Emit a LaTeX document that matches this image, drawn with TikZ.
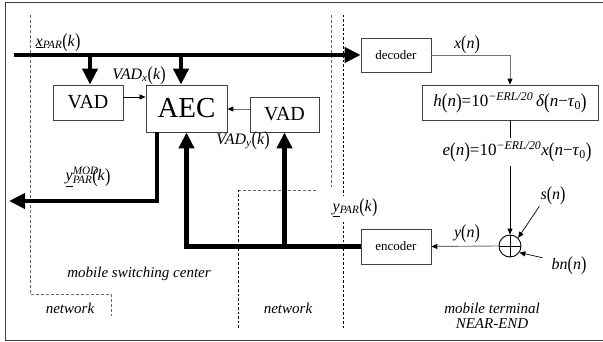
\documentclass[tikz,border=0pt]{standalone}
\usepackage{fontspec}
\setmainfont{Liberation Serif}
\usepackage{graphicx}
\usetikzlibrary{arrows.meta}
\newcommand{\lpar}{\raisebox{-0.1em}{\scalebox{1}[1.25]{(}}}
\newcommand{\rpar}{\raisebox{-0.1em}{\scalebox{1}[1.25]{)}}}
\newcommand{\mysb}[1]{\textsubscript{\textit{#1}}}
\newcommand{\mysp}[1]{\textsuperscript{\textit{#1}}}
\begin{document}
\begin{tikzpicture}[x=1pt,y=-1pt,
  blk/.style={draw=black!75, line width=0.8pt, inner sep=0pt, fill=white},
  bus/.style={line width=4.5pt},
  busarr/.style={line width=4.5pt, -{Triangle[width=15pt,length=16pt]}},
  thinarr/.style={line width=0.7pt, -{Triangle[width=5pt,length=6pt]}},
  grayarr/.style={line width=0.9pt, draw=black!55, -{Triangle[width=5pt,length=6pt,fill=black,color=black]}},
  lbl/.style={inner sep=1pt, font=\fontsize{16}{18}\selectfont},
  zone/.style={inner sep=0pt, font=\fontsize{15}{17}\selectfont\itshape},
  gdash/.style={draw=black!60, line width=0.8pt, dash pattern=on 3pt off 2pt},
  bdash/.style={draw=black, line width=0.6pt, dash pattern=on 2.5pt off 2pt}]
\useasboundingbox (0,0) rectangle (603,342);
\fill[white] (0,0) rectangle (603,342);
\draw[black!75, line width=1pt] (5,3) rectangle (615,340);
% zone borders
\draw[gdash] (30,15) -- (30,294) -- (111,294) -- (111,316);
\draw[gdash] (331,15) -- (331,187);
\draw[gdash] (238,190) -- (316,190);
\draw[bdash] (238,190) -- (238,329);
\draw[bdash] (343,15) -- (343,329);
% zone labels
\node[zone] (msc) at (139,274) {mobile switching center};
\node[zone] (net1) at (70,308) {network};
\node[zone] (net2) at (288,308) {network};
\node[zone, align=center] (mt) at (492,316) {mobile terminal\\[-2pt]NEAR-END};
% blocks
\node[blk, minimum width=70pt, minimum height=35pt, font=\fontsize{20}{22}\selectfont] (vad1) at (88,102.5) {VAD};
\node[blk, minimum width=81pt, minimum height=47pt, font=\fontsize{29}{31}\selectfont] (aec) at (186.5,108.5) {AEC};
\node[blk, minimum width=69pt, minimum height=35pt, font=\fontsize{20}{22}\selectfont] (vad2) at (284.5,114.5) {VAD};
\node[blk, minimum width=70pt, minimum height=34pt, font=\fontsize{13}{15}\selectfont] (dec) at (396,55) {decoder};
\node[blk, minimum width=70pt, minimum height=35pt, font=\fontsize{13}{15}\selectfont] (enc) at (396,246.5) {encoder};
\node[blk, minimum width=176pt, minimum height=35pt, font=\fontsize{17}{19}\selectfont] (h) at (510,102.5)
  {\textit{h}\lpar\textit{n}\rpar=10\mysp{−ERL/20}\,\textit{δ}\lpar\textit{n}−\textit{τ}\textsubscript{0}\rpar};
\node[inner sep=4pt, font=\fontsize{17}{19}\selectfont] (e) at (517,152)
  {\textit{e}\lpar\textit{n}\rpar=10\mysp{−ERL/20}\textit{x}\lpar\textit{n}−\textit{τ}\textsubscript{0}\rpar};
\node[draw=black, line width=0.9pt, circle, minimum size=22pt, inner sep=0pt] (sum) at (510,246) {};
\draw[line width=0.9pt] (sum.north) -- (sum.south) (sum.west) -- (sum.east);
% labels
\node[lbl] (xpar) at (58,43) {\underline{\textit{x}}\mysb{PAR}\lpar\textit{k}\rpar};
\node[lbl] (vadx) at (139,76) {\textit{VAD}\mysb{x}\lpar\textit{k}\rpar};
\node[lbl] (vady) at (243,141) {\textit{VAD}\mysb{y}\lpar\textit{k}\rpar};
\node[lbl] (ymod) at (88,177) {\underline{\textit{y}}\rlap{\mysp{MOD}}\mysb{PAR}\lpar\textit{k}\rpar};
\node[lbl, fill=white, inner sep=3pt] (ypar) at (355,208) {\underline{\textit{y}}\mysb{PAR}\lpar\textit{k}\rpar};
\node[lbl] (xn) at (467,45) {\textit{x}\lpar\textit{n}\rpar};
\node[lbl] (yn) at (467,234) {\textit{y}\lpar\textit{n}\rpar};
\node[lbl] (sn) at (553,196) {\textit{s}\lpar\textit{n}\rpar};
\node[lbl] (bn) at (569,266) {\textit{bn}\lpar\textit{n}\rpar};
% connectors
\coordinate (bstart) at (14,55);
\coordinate (b1) at (90,55);
\coordinate (b2) at (181,55);
\coordinate (ymodend) at (9,201);
\coordinate (m1) at (157,201);
\draw[busarr] (bstart) -- (dec.west);
\draw[busarr] (b1) -- (b1 |- vad1.north);
\draw[busarr] (b2) -- (b2 |- aec.north);
\draw[thinarr] ([yshift=5.5pt]vad1.east) -- ([yshift=5.5pt]vad1.east -| aec.west);
\draw[grayarr] ([yshift=5.5pt]vad2.west) -- ([yshift=5.5pt]vad2.west -| aec.east);
\draw[busarr] (aec.south -| m1) |- (ymodend);
\draw[busarr] (enc.west) -| (aec.south);
\draw[busarr] (enc.west -| vad2.south) -- (vad2.south);
\draw[grayarr] (dec.east) -| (h.north);
\draw[line width=0.7pt] (h.south) -- (e.north -| h.south);
\draw[thinarr] (e.south -| h.south) -- (sum.north);
\draw[thinarr] (sn.south west) -- (sum.north east);
\draw[thinarr] ([xshift=-8pt,yshift=-2pt]bn.north west) -- (sum.-35);
\draw[grayarr] (sum.west) -- (enc.east);
\end{tikzpicture}
\end{document}
